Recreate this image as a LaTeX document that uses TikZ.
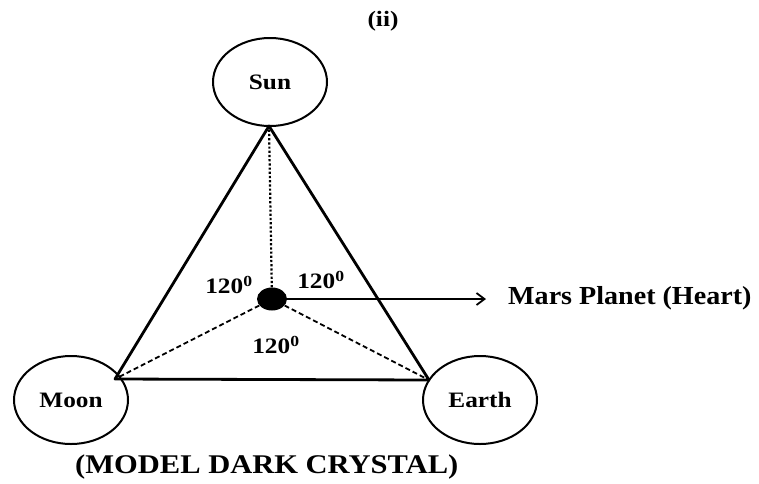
\documentclass[tikz,border=0pt]{standalone}
\usepackage{fontspec}
\setmainfont{Liberation Serif}
\usetikzlibrary{shapes.geometric,arrows.meta}
\newcommand{\hstretch}[1]{\scalebox{1.15}[1]{#1}}
\begin{document}
\begin{tikzpicture}[x=1pt,y=-1pt,
  body/.style={ellipse,draw,line width=2pt,minimum width=114pt,minimum height=88pt,inner sep=0pt,font=\bfseries\fontsize{22}{24}\selectfont},
  edge/.style={line width=2.8pt},
  lab/.style={font=\bfseries\fontsize{22}{24}\selectfont,inner sep=0pt},
  big/.style={font=\bfseries\fontsize{26}{30}\selectfont,inner sep=0pt}]
\useasboundingbox (0,0) rectangle (759,483);
\node[lab] (title) at (383,21) {\hstretch{(ii)}};
\node[body] (Sun) at (270,82) {\hstretch{Sun}};
\node[body] (Moon) at (71,400) {\hstretch{Moon}};
\node[body] (Earth) at (480,400) {\hstretch{Earth}};
\coordinate (S) at (269,126);
\coordinate (M) at (115,379);
\coordinate (E) at (429,380);
\node[ellipse,fill=black,minimum width=30pt,minimum height=23pt,inner sep=0pt] (H) at (272,299) {};
\draw[edge,line join=round] (S) -- (M) -- (E) -- cycle;
\draw[line width=2.2pt,dotted] (H) -- (S);
\draw[line width=1.8pt,dash pattern=on 5pt off 3pt] (H) -- (M);
\draw[line width=1.8pt,dash pattern=on 5pt off 3pt] (H) -- (E);
\coordinate (T) at (486,299);
\draw[line width=1.8pt,-{Straight Barb[length=8pt,width=12pt,line width=1.8pt]}] (H.east) -- (T);
\node[big,anchor=west] (mars) at (508,298) {\scalebox{1.08}[1]{Mars Planet (Heart)}};
\node[lab] (a1) at (229,285) {\hstretch{120\textsuperscript{0}}};
\node[lab] (a2) at (321,280) {\hstretch{120\textsuperscript{0}}};
\node[lab] (a3) at (276,345) {\hstretch{120\textsuperscript{0}}};
\node[big,anchor=west,font=\bfseries\fontsize{27}{30}\selectfont] (cap) at (75,467) {\scalebox{1.13}[1]{(MODEL DARK CRYSTAL)}};
\end{tikzpicture}
\end{document}
